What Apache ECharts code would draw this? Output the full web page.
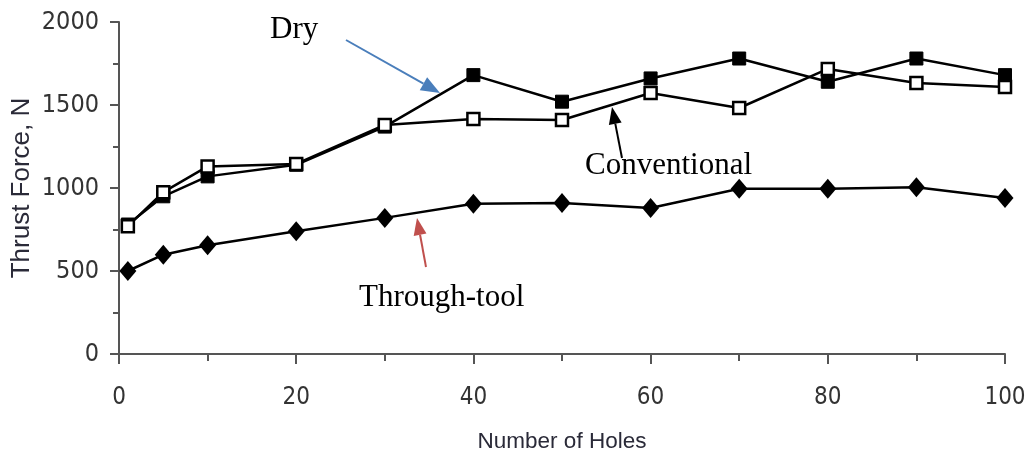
<!DOCTYPE html>
<html>
<head>
<meta charset="utf-8">
<script src="https://cdn.jsdelivr.net/npm/echarts@6/dist/echarts.min.js"></script>
<style>
  html, body { margin: 0; padding: 0; background: #fff; }
  #chart { width: 1029px; height: 460px; }
</style>
</head>
<body>
<div id="chart"></div>
<script>
// Number of holes drilled
const holes = [1, 5, 10, 20, 30, 40, 50, 60, 70, 80, 90, 100];
// Thrust force (N) per cooling condition
const dry = [780, 950, 1070, 1140, 1370, 1680, 1520, 1660, 1780, 1640, 1780, 1680];
const conventional = [770, 975, 1130, 1145, 1380, 1415, 1410, 1572, 1482, 1717, 1632, 1608];
const throughTool = [500, 598, 655, 740, 820, 905, 910, 880, 995, 995, 1005, 940];

const pairs = (ys) => holes.map((x, i) => [x, ys[i]]);

const tickFont = "'Liberation Sans Narrow', 'DejaVu Sans Condensed', 'Arial Narrow', sans-serif";
const serif = "'Liberation Serif', 'Times New Roman', serif";
const sans = "'Liberation Sans', Arial, sans-serif";
const axisColor = '#555';

const chart = echarts.init(document.getElementById('chart'));

function arrow(x1, y1, x2, y2, color, headLen, headW) {
  const dx = x2 - x1, dy = y2 - y1;
  const len = Math.sqrt(dx * dx + dy * dy);
  const ux = dx / len, uy = dy / len;
  const bx = x2 - ux * headLen, by = y2 - uy * headLen;
  const px = -uy * headW / 2, py = ux * headW / 2;
  return [
    { type: 'line', shape: { x1: x1, y1: y1, x2: bx, y2: by }, style: { stroke: color, lineWidth: 2 }, z: 10 },
    { type: 'polygon', shape: { points: [[x2, y2], [bx + px, by + py], [bx - px, by - py]] }, style: { fill: color }, z: 10 }
  ];
}

const plain = (v) => String(v);

const option = {
  backgroundColor: '#fff',
  animation: false,
  grid: { left: 119, right: 24, top: 22, bottom: 106, containLabel: false, outerBoundsMode: 'none' },
  xAxis: {
    type: 'value', min: 0, max: 100, interval: 20,
    name: 'Number of Holes', nameLocation: 'middle', nameGap: 76,
    nameMoveOverlap: false,
    nameTextStyle: { fontFamily: sans, fontSize: 22.5, color: '#2a2a38' },
    axisLine: { show: true, lineStyle: { color: axisColor, width: 2 } },
    axisTick: { show: true, inside: false, length: 10, lineStyle: { color: axisColor, width: 2 } },
    minorTick: { show: true, splitNumber: 2, length: 7, lineStyle: { color: axisColor, width: 2 } },
    axisLabel: { fontFamily: tickFont, fontSize: 24, color: '#333', margin: 32, formatter: plain },
    splitLine: { show: false }
  },
  yAxis: {
    type: 'value', min: 0, max: 2000, interval: 500,
    name: 'Thrust Force, N', nameLocation: 'middle', nameGap: 84,
    nameMoveOverlap: false,
    nameTextStyle: { fontFamily: sans, fontSize: 26, color: '#2a2a38' },
    axisLine: { show: true, lineStyle: { color: axisColor, width: 2 } },
    axisTick: { show: true, inside: false, length: 9, lineStyle: { color: axisColor, width: 2 } },
    minorTick: { show: true, splitNumber: 2, length: 6, lineStyle: { color: axisColor, width: 2 } },
    axisLabel: { fontFamily: tickFont, fontSize: 25, color: '#333', margin: 20, formatter: plain },
    splitLine: { show: false }
  },
  series: [
    {
      name: 'Through-tool', type: 'line', data: pairs(throughTool),
      symbol: 'diamond', symbolSize: [17, 20],
      lineStyle: { color: '#000', width: 2.5 },
      itemStyle: { color: '#000', borderColor: '#000', borderWidth: 0 }
    },
    {
      name: 'Dry', type: 'line', data: pairs(dry),
      symbol: 'rect', symbolSize: 13,
      lineStyle: { color: '#000', width: 2.5 },
      itemStyle: { color: '#000', borderColor: '#000', borderWidth: 1 }
    },
    {
      name: 'Conventional', type: 'line', data: pairs(conventional),
      symbol: 'rect', symbolSize: 12,
      lineStyle: { color: '#000', width: 2.5 },
      itemStyle: { color: '#fff', borderColor: '#000', borderWidth: 2.5 }
    }
  ],
  graphic: [
    { type: 'text', left: 270, top: 14, style: { text: 'Dry', font: '31px ' + serif, fill: '#000' }, z: 10 },
    { type: 'text', left: 585, top: 150, style: { text: 'Conventional', font: '31px ' + serif, fill: '#000' }, z: 10 },
    { type: 'text', left: 359, top: 282, style: { text: 'Through-tool', font: '31px ' + serif, fill: '#000' }, z: 10 }
  ]
    .concat(arrow(346, 40, 440, 93, '#4a7ebb', 19, 15))
    .concat(arrow(622, 158, 612, 107, '#000', 17, 13))
    .concat(arrow(426, 267, 417, 218, '#c0504d', 17, 13))
};

chart.setOption(option);
</script>
</body>
</html>
